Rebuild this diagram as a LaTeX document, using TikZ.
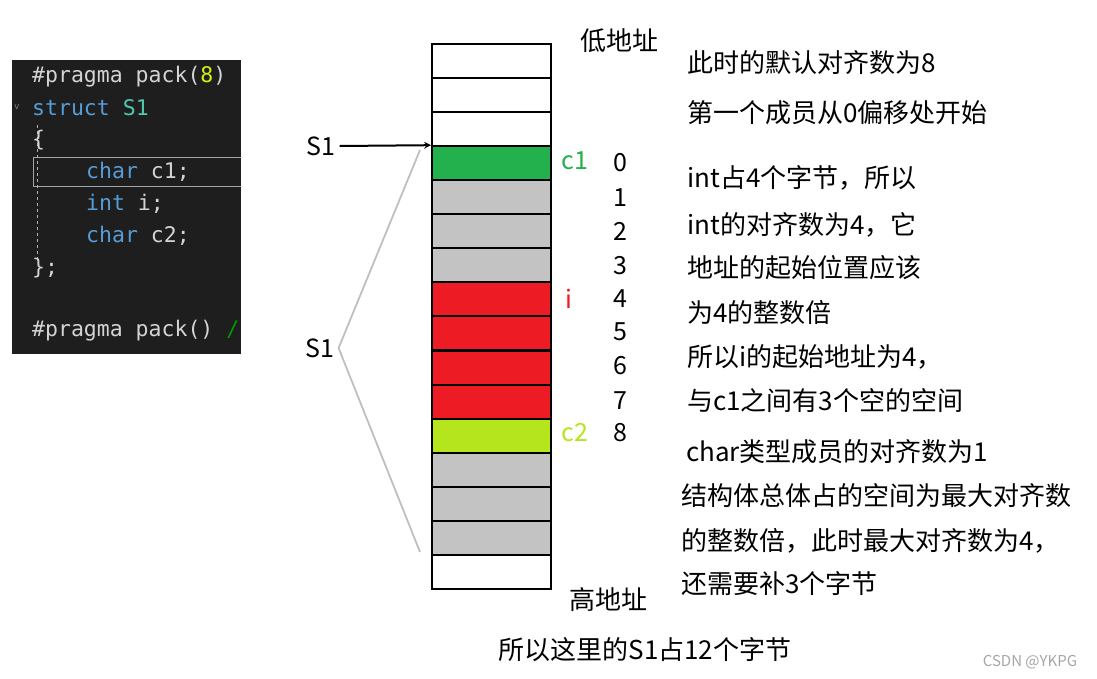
\documentclass[tikz,border=0pt]{standalone}
\usepackage{fontspec}
\setmainfont{Noto Sans CJK SC}
\newfontfamily\codefont{DejaVu Sans Mono}
\begin{document}
\begin{tikzpicture}[x=1pt,y=-1pt,
 cell/.style={draw=black,line width=2pt,minimum width=119pt,minimum height=34pt,inner sep=0,anchor=north west},
 txt/.style={anchor=west,inner sep=0,font=\fontsize{26}{30}\selectfont},
 num/.style={inner sep=0,font=\fontsize{25}{30}\selectfont},
 code/.style={anchor=west,inner sep=0,font=\codefont\fontsize{21.5}{24}\selectfont}]
\useasboundingbox (0,0) rectangle (1097,678);
\definecolor{cgreen}{HTML}{22B14C}\definecolor{cgray}{HTML}{C3C3C3}
\definecolor{cred}{HTML}{ED1C24}\definecolor{clime}{HTML}{B5E61D}
\definecolor{kw}{HTML}{569CD6}\definecolor{ty}{HTML}{4EC9B0}\definecolor{tx}{HTML}{D4D4D4}
% code panel
\begin{scope}
\clip (12,60) rectangle (241,354);
\fill[fill={rgb,255:red,30;green,30;blue,30}] (12,60) rectangle (241,354);
\draw[gray!70,line width=0.6pt] (33,157) rectangle (245,186);
\draw[gray!60,dashed] (37,125) -- (37,262);
\node[code,text=tx] (l1) at (32,77) {\#pragma pack(\textcolor{clime!60!yellow}{8})};
\node[code,text=gray] (chev) at (14,107) {\fontsize{9}{9}\selectfont v};
\node[code,text=kw] (l2) at (32,108) {struct \textcolor{ty}{S1}};
\node[code,text=tx] (l3) at (32,140) {\{};
\node[code,text=kw] (l4) at (86,172) {char \textcolor{tx}{c1;}};
\node[code,text=kw] (l5) at (86,204) {int \textcolor{tx}{i;}};
\node[code,text=kw] (l6) at (86,236) {char \textcolor{tx}{c2;}};
\node[code,text=tx] (l7) at (32,268) {\};};
\node[code,text=tx] (l8) at (32,331) {\#pragma pack() \textcolor{green!60!black}{/}};
\end{scope}
% cells
\foreach \i/\c in {0/white,1/white,2/white,3/cgreen,4/cgray,5/cgray,6/cgray,7/cred,8/cred,9/cred,10/cred,11/clime,12/cgray,13/cgray,14/cgray,15/white}
 \node[cell,fill=\c] (r\i) at (431,43+34.06*\i) {};
% numbers
\foreach \n/\y in {0/163,1/198,2/231,3/266,4/299,5/332,6/366,7/401,8/433}
 \node[num] (n\n) at (620,\y) {\n};
\node[num,text=cgreen] (lc1) at (575,161) {c1};
\node[num,text=cred] (li) at (569,299) {i};
\node[num,text=clime] (lc2) at (575,433) {c2};
% S1 labels
\node[num] (s1a) at (321,146) {S1};
\node[num] (s1b) at (320,348) {S1};
\draw[-stealth,line width=2pt] (s1a.east) ++(4,0) -- (r3.north west);
\coordinate (t1) at (420,150); \coordinate (t2) at (420,552);
\draw[gray!50,line width=1.8pt] (t1) -- ([xshift=4pt]s1b.east) -- (t2);
% address labels
\node[txt] (low) at (580,41) {低地址};
\node[txt] (high) at (569,600) {高地址};
\node[txt] at (687,63) {此时的默认对齐数为8};
\node[txt] at (687,113) {第一个成员从0偏移处开始};
\node[txt] at (687,178) {int占4个字节，所以};
\node[txt] at (687,225) {int的对齐数为4，它};
\node[txt] at (687,268) {地址的起始位置应该};
\node[txt] at (687,313) {为4的整数倍};
\node[txt] at (687,357) {所以i的起始地址为4，};
\node[txt] at (687,401) {与c1之间有3个空的空间};
\node[txt] at (686,452) {char类型成员的对齐数为1};
\node[txt] at (681,496) {结构体总体占的空间为最大对齐数};
\node[txt] at (681,541) {的整数倍，此时最大对齐数为4，};
\node[txt] at (681,584) {还需要补3个字节};
\node[num,font=\fontsize{26}{30}\selectfont] (sum) at (645,650) {所以这里的S1占12个字节};
\node[num,text=gray!70,font=\fontsize{15}{17}\selectfont] (wm) at (1030,662) {CSDN @YKPG};
\end{tikzpicture}
\end{document}
